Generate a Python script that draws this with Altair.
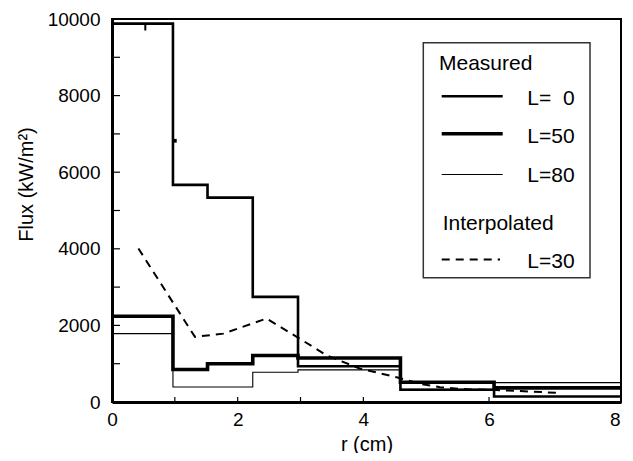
import altair as alt
import pandas as pd

# ---- data ----
r_edges = [0.0, 0.97, 1.52, 2.24, 2.96, 4.59, 6.08, 8.1]
flux_L0 = [9880, 5670, 5335, 2745, 935, 320, 145]
flux_L50 = [2240, 850, 1000, 1215, 1150, 515, 370]
flux_L80 = [1785, 390, 390, 775, 840, 330, 505]

r_L30 = [0.42, 1.32, 1.77, 2.46, 2.94, 3.42, 3.95, 4.56, 4.90, 5.22, 5.70, 6.04, 7.08]
flux_L30 = [4010, 1700, 1785, 2180, 1700, 1215, 870, 635, 475, 385, 325, 320, 240]

# small marks on the L=0 curve
mark_r = [0.53]
mark_lo = [9700]
mark_hi = [9880]
dot_r = [1.0]
dot_flux = [6820]

x_labels = [0, 2, 4, 6, 8]
y_labels = [0, 2000, 4000, 6000, 8000, 10000]
x_ticks = [1, 2, 3, 4, 6]
y_ticks = [1000, 2000, 3000, 4000, 5000, 6000, 7000, 8000, 9000]

W, H = 509, 383
FONT = "Liberation Sans"


def step_df(vals):
    return pd.DataFrame({"r": r_edges, "flux": list(vals) + [vals[-1]]})


xs = alt.Scale(domain=[0, 8.1], nice=False, zero=False)
ys = alt.Scale(domain=[0, 10000], nice=False)

X = alt.X("r:Q", scale=xs, axis=alt.Axis(
    values=x_labels, format="d", title="r (cm)", ticks=False, grid=False, labelFlush=False,
    labelFontSize=19, labelFont=FONT, labelPadding=8, labelColor="black",
    domainColor="black", domainWidth=3,
    titleFont=FONT, titleFontSize=20, titleFontWeight="normal", titleColor="black",
    titleY=48, titleBaseline="alphabetic"))
Y = alt.Y("flux:Q", scale=ys, axis=alt.Axis(
    values=y_labels, format="d", title="Flux (kW/m²)", ticks=False, grid=False, labelFlush=False,
    labelFontSize=19, labelFont=FONT, labelPadding=12, labelColor="black",
    domainColor="black", domainWidth=3,
    titleFont=FONT, titleFontSize=20, titleFontWeight="normal", titleColor="black",
    titleAngle=270, titleX=-80, titleY=165, titleAlign="center",
    titleBaseline="alphabetic"))

l0 = alt.Chart(step_df(flux_L0)).mark_line(interpolate="step-after", color="black", strokeWidth=2.6).encode(x=X, y=Y)
l50 = alt.Chart(step_df(flux_L50)).mark_line(interpolate="step-after", color="black", strokeWidth=3.6).encode(x="r:Q", y="flux:Q")
l80 = alt.Chart(step_df(flux_L80)).mark_line(interpolate="step-after", color="black", strokeWidth=1.1).encode(x="r:Q", y="flux:Q")
l30 = alt.Chart(pd.DataFrame({"r": r_L30, "flux": flux_L30})).mark_line(
    color="black", strokeWidth=2, strokeDash=[8, 6]).encode(x="r:Q", y="flux:Q")

tickmark = alt.Chart(pd.DataFrame({"r": mark_r, "flux": mark_lo, "flux2": mark_hi})).mark_rule(
    color="black", strokeWidth=2).encode(x="r:Q", y="flux:Q", y2="flux2:Q")
dot = alt.Chart(pd.DataFrame({"r": dot_r, "flux": dot_flux})).mark_square(
    color="black", size=14, opacity=1).encode(x="r:Q", y="flux:Q")

yt = alt.Chart(pd.DataFrame({"flux": y_ticks})).mark_rule(color="black", strokeWidth=1.2).encode(
    y="flux:Q", x=alt.value(0), x2=alt.value(8))
xt = alt.Chart(pd.DataFrame({"r": x_ticks})).mark_rule(color="black", strokeWidth=1.2).encode(
    x="r:Q", y=alt.value(H), y2=alt.value(H - 5))

one = alt.Data(values=[{}])
box = alt.Chart(one).mark_rect(fill="white", stroke="#333", strokeWidth=1.5).encode(
    x=alt.value(311.3), x2=alt.value(478), y=alt.value(23.8), y2=alt.value(258.8))


def leg_line(y, w, dash=None):
    kw = dict(color="black", strokeWidth=w)
    if dash:
        kw["strokeDash"] = dash
    return alt.Chart(one).mark_rule(**kw).encode(
        x=alt.value(329.7), x2=alt.value(390.7 if not dash else 388), y=alt.value(y))


def leg_text(txt, x, y):
    return alt.Chart(one).mark_text(text=txt, font=FONT, fontSize=21, align="left",
                                    baseline="alphabetic", color="black").encode(
        x=alt.value(x), y=alt.value(y))


legend = [
    box,
    leg_text("Measured", 327, 51.2),
    leg_line(77.2, 2.6), leg_text("L=\u00a0\u00a00", 415.3, 85.5),
    leg_line(114.8, 3.6), leg_text("L=50", 415.3, 123.8),
    leg_line(155.5, 1.1), leg_text("L=80", 415.3, 163.2),
    leg_text("Interpolated", 330.7, 211.2),
    leg_line(240.5, 2, [8, 6]), leg_text("L=30", 415.3, 248.8),
]

chart = alt.layer(l0, l50, l80, l30, tickmark, dot, yt, xt, *legend).properties(
    width=W, height=H,
    autosize=alt.AutoSizeParams(type="none"),
    padding={"left": 104, "top": 11, "right": 4, "bottom": 51},
).configure_view(stroke="black", strokeWidth=2)

chart.save("out.html", embed_options={"renderer": "svg", "actions": False})
